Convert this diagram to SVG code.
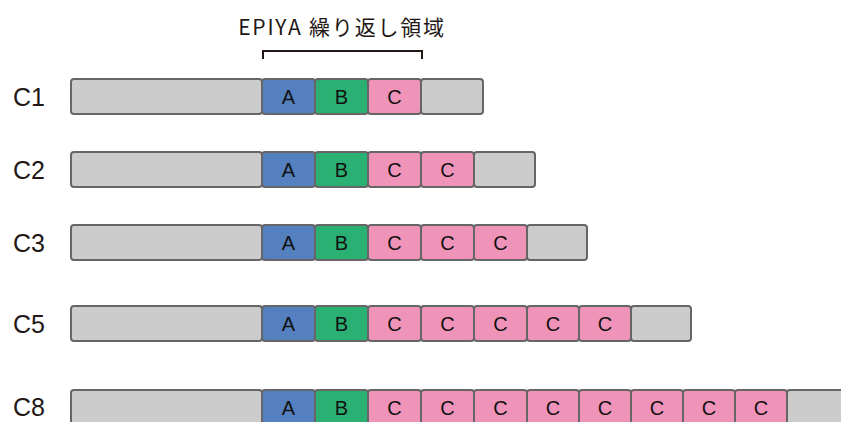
<svg xmlns="http://www.w3.org/2000/svg" width="841" height="422" viewBox="0 0 841 422">
<style>
.cell{stroke:#666;stroke-width:2}
.g{fill:#cccccc}
.a{fill:#5580bf}
.b{fill:#2bb074}
.c{fill:#ef93b9}
.t{font-family:"Liberation Sans",sans-serif;font-size:20px;fill:#111;text-anchor:middle;dominant-baseline:central}
.lbl{font-family:"Liberation Sans",sans-serif;font-size:25px;fill:#231815;dominant-baseline:central}
</style>
<rect width="841" height="422" fill="#fff"/>
<g id="title">
<text x="342" y="26" font-family="'Noto Sans CJK JP','Liberation Sans',sans-serif" font-size="21" letter-spacing="1.8" fill="#231815" text-anchor="middle" dominant-baseline="central">EPIYA 繰り返し領域</text>
</g>
<g id="connectors">
<path d="M263 59 V51 H422 V59" fill="none" stroke="#231815" stroke-width="2"/>
</g>
<g id="C1">
<text class="lbl" x="13" y="97">C1</text>
<rect class="cell g" x="71" y="79" width="191" height="35" rx="3"/>
<rect class="cell a" x="262" y="79" width="53" height="35" rx="3"/><text class="t" x="288.5" y="97">A</text>
<rect class="cell b" x="315" y="79" width="53" height="35" rx="3"/><text class="t" x="341.5" y="97">B</text>
<rect class="cell c" x="368" y="79" width="53" height="35" rx="3"/><text class="t" x="394.5" y="97">C</text>
<rect class="cell g" x="421" y="79" width="62" height="35" rx="3"/>
</g>
<g id="C2">
<text class="lbl" x="13" y="170">C2</text>
<rect class="cell g" x="71" y="152" width="191" height="35" rx="3"/>
<rect class="cell a" x="262" y="152" width="53" height="35" rx="3"/><text class="t" x="288.5" y="170">A</text>
<rect class="cell b" x="315" y="152" width="53" height="35" rx="3"/><text class="t" x="341.5" y="170">B</text>
<rect class="cell c" x="368" y="152" width="53" height="35" rx="3"/><text class="t" x="394.5" y="170">C</text>
<rect class="cell c" x="421" y="152" width="53" height="35" rx="3"/><text class="t" x="447.5" y="170">C</text>
<rect class="cell g" x="474" y="152" width="61" height="35" rx="3"/>
</g>
<g id="C3">
<text class="lbl" x="13" y="243">C3</text>
<rect class="cell g" x="71" y="225" width="191" height="35" rx="3"/>
<rect class="cell a" x="262" y="225" width="53" height="35" rx="3"/><text class="t" x="288.5" y="243">A</text>
<rect class="cell b" x="315" y="225" width="53" height="35" rx="3"/><text class="t" x="341.5" y="243">B</text>
<rect class="cell c" x="368" y="225" width="53" height="35" rx="3"/><text class="t" x="394.5" y="243">C</text>
<rect class="cell c" x="421" y="225" width="53" height="35" rx="3"/><text class="t" x="447.5" y="243">C</text>
<rect class="cell c" x="474" y="225" width="53" height="35" rx="3"/><text class="t" x="500.5" y="243">C</text>
<rect class="cell g" x="527" y="225" width="60" height="35" rx="3"/>
</g>
<g id="C5">
<text class="lbl" x="13" y="324">C5</text>
<rect class="cell g" x="71" y="306" width="191" height="35" rx="3"/>
<rect class="cell a" x="262" y="306" width="53" height="35" rx="3"/><text class="t" x="288.5" y="324">A</text>
<rect class="cell b" x="315" y="306" width="53" height="35" rx="3"/><text class="t" x="341.5" y="324">B</text>
<rect class="cell c" x="368" y="306" width="53" height="35" rx="3"/><text class="t" x="394.5" y="324">C</text>
<rect class="cell c" x="421" y="306" width="53" height="35" rx="3"/><text class="t" x="447.5" y="324">C</text>
<rect class="cell c" x="474" y="306" width="53" height="35" rx="3"/><text class="t" x="500.5" y="324">C</text>
<rect class="cell c" x="527" y="306" width="52" height="35" rx="3"/><text class="t" x="553" y="324">C</text>
<rect class="cell c" x="579" y="306" width="52" height="35" rx="3"/><text class="t" x="605" y="324">C</text>
<rect class="cell g" x="631" y="306" width="60" height="35" rx="3"/>
</g>
<g id="C8">
<text class="lbl" x="13" y="407">C8</text>
<rect class="cell g" x="71" y="390" width="191" height="35" rx="3"/>
<rect class="cell a" x="262" y="390" width="53" height="35" rx="3"/><text class="t" x="288.5" y="408">A</text>
<rect class="cell b" x="315" y="390" width="53" height="35" rx="3"/><text class="t" x="341.5" y="408">B</text>
<rect class="cell c" x="368" y="390" width="53" height="35" rx="3"/><text class="t" x="394.5" y="408">C</text>
<rect class="cell c" x="421" y="390" width="53" height="35" rx="3"/><text class="t" x="447.5" y="408">C</text>
<rect class="cell c" x="474" y="390" width="53" height="35" rx="3"/><text class="t" x="500.5" y="408">C</text>
<rect class="cell c" x="527" y="390" width="52" height="35" rx="3"/><text class="t" x="553" y="408">C</text>
<rect class="cell c" x="579" y="390" width="52" height="35" rx="3"/><text class="t" x="605" y="408">C</text>
<rect class="cell c" x="631" y="390" width="52" height="35" rx="3"/><text class="t" x="657" y="408">C</text>
<rect class="cell c" x="683" y="390" width="52" height="35" rx="3"/><text class="t" x="709" y="408">C</text>
<rect class="cell c" x="735" y="390" width="52" height="35" rx="3"/><text class="t" x="761" y="408">C</text>
<rect class="cell g" x="787" y="390" width="60" height="35" rx="3"/>
</g>
</svg>
